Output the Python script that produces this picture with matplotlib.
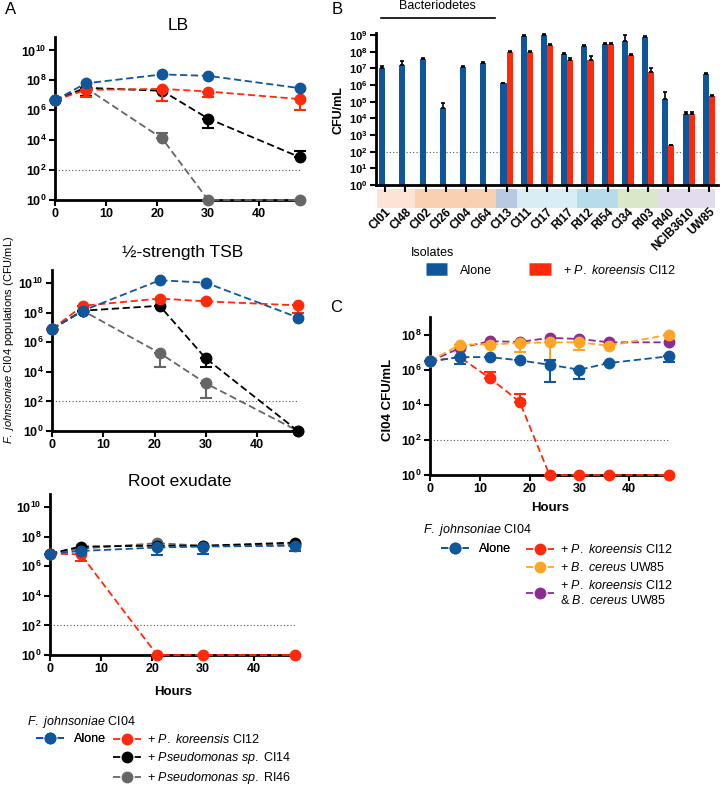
import numpy as np
import matplotlib
matplotlib.use('Agg')
import matplotlib.pyplot as plt
from matplotlib.lines import Line2D
from matplotlib.patches import Rectangle
from matplotlib.ticker import NullLocator

plt.rcParams['font.family'] = ['Liberation Sans', 'DejaVu Sans']
plt.rcParams['mathtext.fontset'] = 'custom'
plt.rcParams['mathtext.rm'] = 'Liberation Sans'
plt.rcParams['mathtext.it'] = 'Liberation Sans:italic'
plt.rcParams['mathtext.bf'] = 'Liberation Sans:bold'

AZUL = '#10569a'
ROJO = '#ff2a0a'
NEGRO = '#000000'
GRIS = '#666666'
NARANJA = '#ffa526'
MORADO = '#8a2c91'

# ---- Panel A: horas y poblaciones (CFU/mL) ----
horas_a = [0, 6, 21, 30, 48]

lb_solo = [4.6e6, 6.3e7, 2.5e8, 2.0e8, 3.0e7]
lb_rojo = [4.6e6, 2.3e7, 2.7e7, 1.8e7, 5.6e6]
lb_rojo_lo = [0, 8.3e6, 4.0e6, 8.3e6, 1.1e6]
lb_negro = [4.6e6, 3.2e7, 2.0e7, 2.8e5, 7.2e2]
lb_negro_lo = [0, 9.3e6, 4.4e6, 6.2e4, 0]
lb_negro_hi = [0, 0, 0, 0, 1.8e3]
lb_gris = [4.6e6, 3.2e7, 1.3e4, 1, 1]
lb_gris_hi = [0, 0, 2.8e4, 0, 0]

tsb_solo = [7.9e6, 1.4e8, 1.6e10, 1.1e10, 4.8e7]
tsb_rojo = [7.9e6, 3.0e8, 9.3e8, 6.0e8, 3.2e8]
tsb_rojo_lo = [0, 0, 0, 0, 1.0e8]
tsb_negro = [7.9e6, 1.4e8, 3.0e8, 8.3e4, 1]
tsb_negro_lo = [0, 0, 0, 2.0e4, 0]
tsb_gris = [7.9e6, 1.4e8, 1.9e5, 1.7e3, 1]
tsb_gris_lo = [0, 0, 2.3e4, 1.7e2, 0]

raiz_solo = [7.2e6, 1.1e7, 1.9e7, 2.2e7, 2.5e7]
raiz_solo_lo = [0, 0, 5.6e6, 7.2e6, 1.1e7]
raiz_rojo = [7.2e6, 6.6e6, 1, 1, 1]
raiz_rojo_lo = [0, 2.3e6, 0, 0, 0]
raiz_negro = [7.2e6, 2.2e7, 2.5e7, 2.5e7, 4.1e7]
raiz_gris = [7.2e6, 1.6e7, 3.7e7, 2.5e7, 3.2e7]

# ---- Panel B: aislados ----
aislados = ['CI01', 'CI48', 'CI02', 'CI26', 'CI04', 'CI64', 'CI13', 'CI11', 'CI17',
            'RI17', 'RI12', 'RI54', 'CI34', 'RI03', 'RI40', 'NCIB3610', 'UW85']
b_solo = [1.1e7, 1.6e7, 3.5e7, 4.0e4, 1.26e7, 2.2e7, 1.26e6, 8.7e8, 1.0e9,
          7.6e7, 2.2e8, 3.0e8, 4.6e8, 7.6e8, 1.5e5, 1.9e4, 4.6e6]
b_solo_hi = [1.3e7, 2.9e7, 4.0e7, 8.0e4, 1.4e7, 2.5e7, 1.4e6, 9.5e8, 1.1e9,
             8.5e7, 2.4e8, 3.3e8, 1.0e9, 8.5e8, 4.0e5, 2.3e4, 5.2e6]
b_rojo = [np.nan] * 6 + [9.5e7, 9.5e7, 2.6e8, 3.0e7, 3.3e7, 3.0e8, 6.6e7, 6.0e6,
                         2.4e2, 1.9e4, 2.1e5]
b_rojo_hi = [np.nan] * 6 + [1.05e8, 1.05e8, 2.9e8, 4.4e7, 5.5e7, 3.3e8, 7.5e7, 1.1e7,
                            2.4e2, 2.3e4, 2.5e5]
bandas = [(0, 1, '#fbe4d5'), (2, 5, '#f9d0b0'), (6, 6, '#b9c9e2'), (7, 9, '#d8eef4'),
          (10, 11, '#b6dce9'), (12, 13, '#dae8c8'), (14, 16, '#e2dcec')]

# ---- Panel C ----
horas_c = [0, 6, 12, 18, 24, 30, 36, 48]
c_solo = [3.0e6, 5.2e6, 5.2e6, 3.4e6, 1.9e6, 1.0e6, 2.4e6, 5.8e6]
c_solo_lo = [0, 2.2e6, 0, 0, 2.1e5, 2.9e5, 0, 2.9e6]
c_solo_hi = [0, 0, 0, 0, 3.7e6, 0, 0, 0]
c_rojo = [3.0e6, 5.2e6, 3.3e5, 1.5e4, 1, 1, 1, 1]
c_rojo_hi = [0, 0, 7.0e5, 4.3e4, 0, 0, 0, 0]
c_naranja = [3.0e6, 2.7e7, 2.7e7, 3.3e7, 3.6e7, 3.6e7, 2.3e7, 1.0e8]
c_naranja_lo = [0, 0, 0, 9.8e6, 3.0e6, 1.3e7, 0, 0]
c_morado = [3.0e6, 1.7e7, 4.2e7, 3.8e7, 6.5e7, 5.6e7, 3.6e7, 3.6e7]

PK = r'$\it{P.}$ $\it{koreensis}$'
BC = r'$\it{B.}$ $\it{cereus}$'
FJ = r'$\it{F.}$ $\it{johnsoniae}$'
PS = r'$\it{Pseudomonas}$ $\it{sp.}$'


def estilo_log(ax, ymax_exp, paso, tam=9):
    ax.set_yscale('log')
    ax.set_ylim(1, 10 ** ymax_exp)
    exps = list(range(0, int(ymax_exp) + 1, paso))
    ax.set_yticks([10.0 ** e for e in exps])
    ax.set_yticklabels([r'$\mathbf{10^{%d}}$' % e for e in exps])
    ax.yaxis.set_minor_locator(NullLocator())
    for s in ['top', 'right']:
        ax.spines[s].set_visible(False)
    for s in ['left', 'bottom']:
        ax.spines[s].set_linewidth(2)
    ax.tick_params(axis='both', width=1.5, length=4, labelsize=tam, pad=2)
    ax.axhline(100, color='#555555', lw=0.8, ls=(0, (1, 2)), zorder=1)


def estilo_horas(ax):
    ax.set_xlim(0, 48)
    ax.set_xticks([0, 10, 20, 30, 40])
    for lab in ax.get_xticklabels():
        lab.set_fontweight('bold')


def serie(ax, x, y, color, lo=None, hi=None, z=3):
    y = np.array(y, dtype=float)
    abajo = np.zeros_like(y)
    arriba = np.zeros_like(y)
    if lo is not None:
        lo = np.array(lo, dtype=float)
        abajo = np.where(lo > 0, y - lo, 0)
    if hi is not None:
        hi = np.array(hi, dtype=float)
        arriba = np.where(hi > 0, hi - y, 0)
    if lo is not None or hi is not None:
        ax.errorbar(x, y, yerr=[abajo, arriba], fmt='none', ecolor=color,
                    elinewidth=1.5, capsize=4, capthick=1.5, zorder=z, clip_on=False)
    ax.plot(x, y, ls=(0, (4, 2)), lw=1.3, color=color, marker='o', ms=7.5,
            zorder=z + 0.5, clip_on=False)


fig = plt.figure(figsize=(7.2, 7.88), dpi=100)
W, H = 720.0, 788.0


def caja(l, t, r, b):
    return [l / W, 1 - b / H, (r - l) / W, (b - t) / H]


# ---- A: LB ----
ax1 = fig.add_axes(caja(55, 37, 300, 200))
estilo_log(ax1, 10.9, 2)
estilo_horas(ax1)
serie(ax1, horas_a, lb_gris, GRIS, hi=lb_gris_hi, z=3)
serie(ax1, horas_a, lb_negro, NEGRO, lo=lb_negro_lo, hi=lb_negro_hi, z=4)
serie(ax1, horas_a, lb_rojo, ROJO, lo=lb_rojo_lo, z=5)
serie(ax1, horas_a, lb_solo, AZUL, z=6)
fig.text(178 / W, 1 - 25 / H, 'LB', ha='center', va='center', fontsize=12.5)

# ---- A: TSB ----
ax2 = fig.add_axes(caja(52, 270, 298, 431))
estilo_log(ax2, 10.9, 2)
estilo_horas(ax2)
serie(ax2, horas_a, tsb_gris, GRIS, lo=tsb_gris_lo, z=3)
serie(ax2, horas_a, tsb_negro, NEGRO, lo=tsb_negro_lo, z=4)
serie(ax2, horas_a, tsb_rojo, ROJO, lo=tsb_rojo_lo, z=5)
serie(ax2, horas_a, tsb_solo, AZUL, z=6)
fig.text(183 / W, 1 - 253 / H, '½-strength TSB', ha='center', va='center', fontsize=12.5)

# ---- A: exudado de raiz ----
ax3 = fig.add_axes(caja(50, 494, 295, 655))
estilo_log(ax3, 10.9, 2)
estilo_horas(ax3)
serie(ax3, horas_a, raiz_gris, GRIS, z=3)
serie(ax3, horas_a, raiz_negro, NEGRO, z=4)
serie(ax3, horas_a, raiz_rojo, ROJO, lo=raiz_rojo_lo, z=5)
serie(ax3, horas_a, raiz_solo, AZUL, lo=raiz_solo_lo, z=6)
fig.text(180 / W, 1 - 482 / H, 'Root exudate', ha='center', va='center', fontsize=12.5)
fig.text(173 / W, 1 - 692 / H, 'Hours', ha='center', va='center', fontsize=9.5,
         fontweight='bold')

fig.text(9 / W, 1 - 340 / H, FJ + ' CI04 populations (CFU/mL)',
         rotation=90, ha='center', va='center', fontsize=8)

# leyenda A
fig.text(27 / W, 1 - 722 / H, FJ + ' CI04', ha='left', va='center', fontsize=9)


def mango(color):
    return Line2D([0], [0], color=color, ls=(0, (4, 2)), lw=1.3, marker='o', ms=7.5)


def bloque(color):
    return Line2D([0], [0], color=color, lw=9, solid_capstyle='butt')


leg_a1 = fig.legend([mango(AZUL)], ['Alone'], loc='upper left',
                    bbox_to_anchor=(36 / W, 1 - 733 / H), frameon=False, fontsize=9,
                    handlelength=2.2, handletextpad=0.8, borderpad=0, borderaxespad=0)
fig.legend([mango(ROJO), mango(NEGRO), mango(GRIS)],
           ['+ ' + PK + ' CI12', '+ ' + PS + ' CI14', '+ ' + PS + ' RI46'],
           loc='upper left', bbox_to_anchor=(113 / W, 1 - 733 / H), frameon=False,
           fontsize=9, handlelength=2.2, handletextpad=0.5, labelspacing=0.32,
           borderpad=0, borderaxespad=0)
fig.add_artist(leg_a1)

# ---- B ----
axb = fig.add_axes(caja(376, 33, 718, 185))
estilo_log(axb, 9.12, 1, tam=8)
x = np.arange(len(aislados))
ancho = 0.3
axb.bar(x - ancho / 2, b_solo, width=ancho, color=AZUL, zorder=2)
axb.bar(x + ancho / 2, b_rojo, width=ancho, color=ROJO, zorder=2)
b_solo_arr = np.array(b_solo)
b_rojo_arr = np.array(b_rojo)
axb.errorbar(x - ancho / 2, b_solo_arr, yerr=[np.zeros_like(b_solo_arr),
             np.array(b_solo_hi) - b_solo_arr], fmt='none', ecolor='black',
             elinewidth=1.2, capsize=1.5, capthick=1.2, zorder=3)
m = ~np.isnan(b_rojo_arr)
axb.errorbar((x + ancho / 2)[m], b_rojo_arr[m], yerr=[np.zeros(m.sum()),
             np.array(b_rojo_hi)[m] - b_rojo_arr[m]], fmt='none', ecolor='black',
             elinewidth=1.2, capsize=1.5, capthick=1.2, zorder=3)
axb.set_xlim(-0.45, 16.45)
axb.set_xticks(x)
axb.set_xticklabels(aislados, rotation=45, ha='right', rotation_mode='anchor',
                    fontweight='bold', fontsize=8.5)
axb.tick_params(axis='x', length=5, width=1.5, pad=10)
for ini, fin, col in bandas:
    x0 = max(ini - 0.5, -0.4)
    x1 = min(fin + 0.5, 16.3)
    axb.add_patch(Rectangle((x0, -0.153), x1 - x0, 0.126, color=col, lw=0,
                            transform=axb.get_xaxis_transform(), clip_on=False,
                            zorder=0))
axb.plot([-0.2, 5.43], [1.1, 1.1], color='black', lw=1.2,
         transform=axb.get_xaxis_transform(), clip_on=False)
axb.text(2.6, 1.175, 'Bacteriodetes', transform=axb.get_xaxis_transform(),
         ha='center', va='center', fontsize=9)
fig.text(338 / W, 1 - 110 / H, 'CFU/mL', rotation=90, ha='center', va='center',
         fontsize=9, fontweight='bold')

fig.text(411 / W, 1 - 253 / H, 'Isolates', ha='left', va='center', fontsize=9)
fig.legend([bloque(AZUL), bloque(ROJO)],
           ['Alone', '+ ' + PK + ' CI12'], loc='center left',
           bbox_to_anchor=(426 / W, 1 - 270 / H), ncol=2, frameon=False, fontsize=9,
           handlelength=1.7, handletextpad=1.0, columnspacing=3.0,
           borderpad=0, borderaxespad=0)

# ---- C ----
axc = fig.add_axes(caja(430, 317, 669, 475))
estilo_log(axc, 9.0, 2)
estilo_horas(axc)
serie(axc, horas_c, c_morado, MORADO, z=3)
serie(axc, horas_c, c_naranja, NARANJA, lo=c_naranja_lo, z=4)
serie(axc, horas_c, c_rojo, ROJO, hi=c_rojo_hi, z=5)
serie(axc, horas_c, c_solo, AZUL, lo=c_solo_lo, hi=c_solo_hi, z=6)
fig.text(550 / W, 1 - 508 / H, 'Hours', ha='center', va='center', fontsize=9.5,
         fontweight='bold')
fig.text(388 / W, 1 - 400 / H, 'CI04 CFU/mL', rotation=90, ha='center', va='center',
         fontsize=9.5, fontweight='bold')

fig.text(423 / W, 1 - 530 / H, FJ + ' CI04', ha='left', va='center', fontsize=9)
leg_c1 = fig.legend([mango(AZUL)], ['Alone'], loc='upper left',
                    bbox_to_anchor=(441 / W, 1 - 543 / H), frameon=False, fontsize=9,
                    handlelength=2.2, handletextpad=0.8, borderpad=0, borderaxespad=0)
fig.legend([mango(ROJO), mango(NARANJA), mango(MORADO)],
           ['+ ' + PK + ' CI12', '+ ' + BC + ' UW85',
            '+ ' + PK + ' CI12\n& ' + BC + ' UW85'],
           loc='upper left', bbox_to_anchor=(526 / W, 1 - 543 / H), frameon=False,
           fontsize=9, handlelength=2.2, handletextpad=0.5, labelspacing=0.4,
           borderpad=0, borderaxespad=0)
fig.add_artist(leg_c1)

# letras de panel
fig.text(5 / W, 1 - 9 / H, 'A', fontsize=12, ha='left', va='center')
fig.text(332 / W, 1 - 9 / H, 'B', fontsize=12, ha='left', va='center')
fig.text(330 / W, 1 - 308 / H, 'C', fontsize=12, ha='left', va='center')

fig.savefig('out.png', dpi=100)
